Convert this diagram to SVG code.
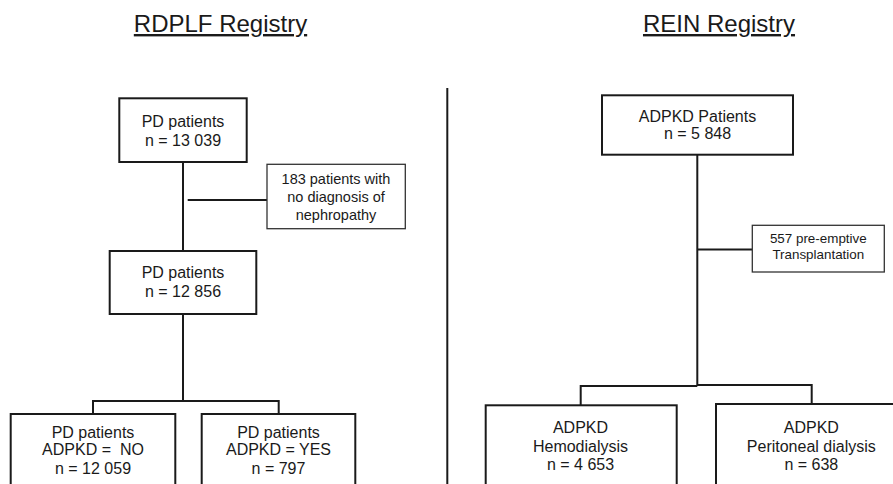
<svg xmlns="http://www.w3.org/2000/svg" width="893" height="484" viewBox="0 0 893 484">
<style>
text{font-family:"Liberation Sans",Arial,sans-serif;fill:#1a1a1a;text-anchor:middle}
.t{font-size:24px;text-decoration:underline}
.n{font-size:16px}
.s{font-size:14.5px}
.s2{font-size:13.4px}
.box{fill:#fff;stroke:#1a1a1a;stroke-width:2}
.sbox{fill:#fff;stroke:#333;stroke-width:1.3}
.ln{fill:none;stroke:#1a1a1a;stroke-width:2}
</style>
<rect width="893" height="484" fill="#fff"/>
<text class="t" x="220.5" y="32">RDPLF Registry</text>
<text class="t" x="719" y="32">REIN Registry</text>
<g id="connectors">
<line class="ln" x1="447.3" y1="88" x2="447.3" y2="484" stroke-width="1.6"/>
<path class="ln" d="M183 162 V251"/>
<path class="ln" d="M187.7 200 H267"/>
<path class="ln" d="M183 314 V401 M93 401 H278.7 M93 400 V414 M278.7 400 V414"/>
<path class="ln" d="M697.3 155 V385 M697.3 249.5 H752.3 M580.7 386 H697.3 M697.3 385 H811.7 M580.7 385 V405 M811.7 384 V404"/>
</g>
<g id="n1"><rect class="box" x="119.3" y="98.3" width="127.4" height="63.7"/>
<text class="n" x="183" y="127.3">PD patients</text><text class="n" x="183" y="146">n = 13 039</text></g>
<g id="n2"><rect class="sbox" x="267" y="164.3" width="138.3" height="64.4"/>
<text class="s" x="336" y="184.3">183 patients with</text><text class="s" x="336" y="202.3">no diagnosis of</text><text class="s" x="336" y="220">nephropathy</text></g>
<g id="n3"><rect class="box" x="109.7" y="251" width="146.6" height="63"/>
<text class="n" x="183" y="278.3">PD patients</text><text class="n" x="183" y="296.7">n = 12 856</text></g>
<g id="n4"><rect class="box" x="10.7" y="414" width="164.6" height="90"/>
<text class="n" x="93" y="437.7">PD patients</text><text class="n" x="93" y="455">ADPKD =&#160; NO</text><text class="n" x="93" y="474">n = 12 059</text></g>
<g id="n5"><rect class="box" x="201.7" y="414" width="153.6" height="90"/>
<text class="n" x="278.5" y="437.7">PD patients</text><text class="n" x="278.5" y="455">ADPKD = YES</text><text class="n" x="278.5" y="474">n = 797</text></g>
<g id="n6"><rect class="box" x="602" y="95.3" width="191" height="59.4"/>
<text class="n" x="697.5" y="121.7">ADPKD Patients</text><text class="n" x="697.5" y="139.3">n = 5 848</text></g>
<g id="n7"><rect class="sbox" x="752.3" y="225.3" width="132" height="46.7"/>
<text class="s2" x="818.3" y="243.3">557 pre-emptive</text><text class="s2" x="818.3" y="259.3">Transplantation</text></g>
<g id="n8"><rect class="box" x="485.7" y="405.3" width="191" height="90"/>
<text class="n" x="580.5" y="432.7">ADPKD</text><text class="n" x="580.5" y="451.7">Hemodialysis</text><text class="n" x="580.5" y="470">n = 4 653</text></g>
<g id="n9"><rect class="box" x="716" y="404" width="200" height="90"/>
<text class="n" x="811.3" y="432.7">ADPKD</text><text class="n" x="811.3" y="451.7">Peritoneal dialysis</text><text class="n" x="811.3" y="470">n = 638</text></g>
</svg>
